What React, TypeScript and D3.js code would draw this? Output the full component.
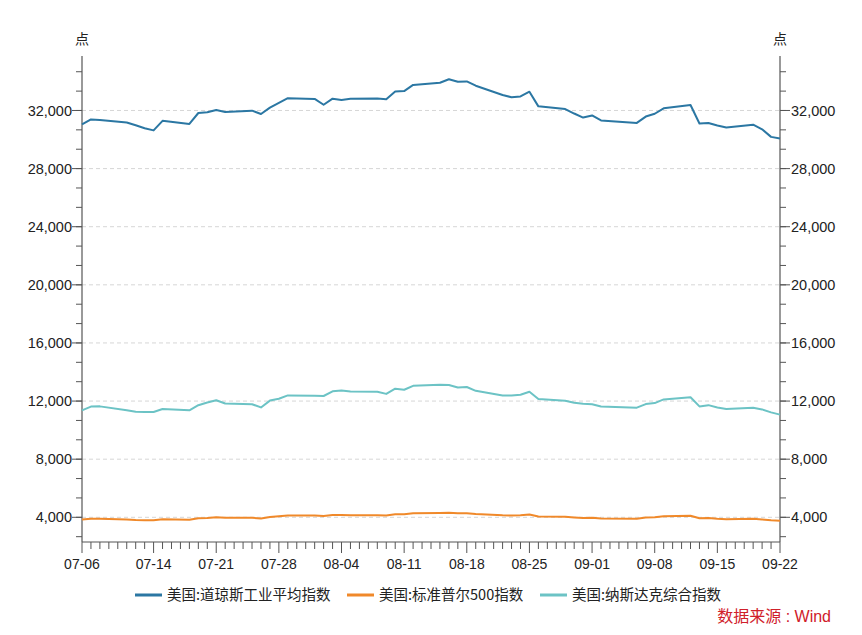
import React from "react";
import * as d3 from "d3";

const dates = [
  "2022-07-06","2022-07-07","2022-07-08","2022-07-11","2022-07-12","2022-07-13","2022-07-14","2022-07-15",
  "2022-07-18","2022-07-19","2022-07-20","2022-07-21","2022-07-22","2022-07-25","2022-07-26","2022-07-27",
  "2022-07-28","2022-07-29","2022-08-01","2022-08-02","2022-08-03","2022-08-04","2022-08-05","2022-08-08",
  "2022-08-09","2022-08-10","2022-08-11","2022-08-12","2022-08-15","2022-08-16","2022-08-17","2022-08-18",
  "2022-08-19","2022-08-22","2022-08-23","2022-08-24","2022-08-25","2022-08-26","2022-08-29","2022-08-30",
  "2022-08-31","2022-09-01","2022-09-02","2022-09-06","2022-09-07","2022-09-08","2022-09-09","2022-09-12",
  "2022-09-13","2022-09-14","2022-09-15","2022-09-16","2022-09-19","2022-09-20","2022-09-21","2022-09-22",
];

const dow = [
  31037.68,31384.55,31338.15,31173.84,30981.33,30772.79,30630.17,31288.26,
  31072.61,31827.05,31874.84,32036.90,31899.29,31990.04,31761.54,32197.59,
  32529.63,32845.13,32798.40,32396.17,32812.50,32726.82,32803.47,32832.54,
  32774.41,33309.51,33336.67,33761.05,33912.44,34152.01,33980.32,33999.04,
  33706.74,33063.61,32909.59,32969.23,33291.78,32283.40,32098.99,31790.87,
  31510.43,31656.42,31318.44,31145.30,31581.28,31774.52,32151.71,32381.34,
  31104.97,31135.09,30961.82,30822.42,31019.68,30706.23,30183.78,30076.68,
];

const sp500 = [
  3845.08,3902.62,3899.38,3854.43,3818.80,3801.78,3790.38,3863.16,
  3830.85,3936.69,3959.90,3998.95,3961.63,3966.84,3921.05,4023.61,
  4072.43,4130.29,4118.63,4091.19,4155.17,4151.94,4145.19,4140.06,
  4122.47,4210.24,4207.27,4280.15,4297.14,4305.20,4274.04,4283.74,
  4228.48,4137.99,4128.73,4140.77,4199.12,4057.66,4030.61,3986.16,
  3955.00,3966.85,3924.26,3908.19,3979.87,4006.18,4067.36,4110.41,
  3932.69,3946.01,3901.35,3873.33,3899.89,3855.93,3789.93,3757.99,
];

const nasdaq = [
  11361.85,11621.35,11635.31,11372.60,11264.73,11247.58,11251.19,11452.42,
  11360.05,11713.15,11897.65,12059.61,11834.11,11782.67,11562.58,12032.42,
  12162.59,12390.69,12368.98,12348.76,12668.16,12720.58,12657.55,12644.46,
  12493.93,12854.80,12779.91,13047.19,13128.05,13102.55,12938.12,12965.34,
  12705.22,12381.57,12381.30,12431.53,12639.27,12141.71,12017.67,11883.14,
  11816.20,11785.13,11630.86,11544.91,11791.90,11862.13,12112.31,12266.41,
  11633.57,11719.68,11552.36,11448.40,11535.02,11425.05,11220.19,11066.81,
];

const seriesNames = ["美国:道琼斯工业平均指数", "美国:标准普尔500指数", "美国:纳斯达克综合指数"];
const seriesColors = ["#2b77a3", "#f0892a", "#6cc3c5"];
const xTickDates = ["2022-07-06","2022-07-14","2022-07-21","2022-07-28","2022-08-04","2022-08-11","2022-08-18","2022-08-25","2022-09-01","2022-09-08","2022-09-15","2022-09-22"];
const yTicks = [4000, 8000, 12000, 16000, 20000, 24000, 28000, 32000];
const yUnit = "点";
const sourceLabel = "数据来源";
const sourceName = "Wind";

const W = 862, H = 635;
const left = 82, right = 780, top = 56, bottom = 542;
const FONT = "'Liberation Sans', Arial, sans-serif";
const CJK = "'Noto Sans CJK SC', sans-serif";

export default function App() {
  const parse = (s: string) => new Date(s + "T00:00:00Z");
  const x = d3.scaleUtc().domain([parse("2022-07-06"), parse("2022-09-22")]).range([left, right]);
  const y = d3.scaleLinear().domain([2300, 35750]).range([bottom, top]);
  const allSeries = [dow, sp500, nasdaq];
  const line = d3.line<number>().x((_, i) => x(parse(dates[i]))).y((v) => y(v));
  const days = d3.utcDay.range(parse("2022-07-06"), d3.utcDay.offset(parse("2022-09-22"), 1));
  const majorSet = new Set(xTickDates);
  const minorY: number[] = [];
  for (let v = 4000 - 4000 / 3; v <= 35750; v += 4000 / 3) minorY.push(v);
  const fmt = d3.format(",");
  const legendX = [135, 347, 540];

  return (
    <svg width={W} height={H} style={{ position: "absolute", left: 0, top: 0, background: "#fff" }}>
      <rect width={W} height={H} fill="#fff" />
      {yTicks.map((t) => (
        <line key={"g" + t} x1={left} x2={right} y1={y(t)} y2={y(t)} stroke="#d6d6d6" strokeDasharray="4,3" strokeWidth={1} />
      ))}
      <line x1={left} x2={left} y1={top} y2={bottom} stroke="#555" strokeWidth={1.2} />
      <line x1={right} x2={right} y1={top} y2={bottom} stroke="#555" strokeWidth={1.2} />
      {minorY.filter((v) => y(v) >= top && y(v) <= bottom).map((v, i) => (
        <g key={"m" + i}>
          <line x1={left - 6} x2={left} y1={y(v)} y2={y(v)} stroke="#555" />
          <line x1={right} x2={right + 6} y1={y(v)} y2={y(v)} stroke="#555" />
        </g>
      ))}
      {yTicks.map((t) => (
        <g key={"t" + t}>
          <line x1={left - 10} x2={left} y1={y(t)} y2={y(t)} stroke="#555" />
          <line x1={right} x2={right + 10} y1={y(t)} y2={y(t)} stroke="#555" />
          <text x={left - 10} y={y(t)} dy="0.35em" textAnchor="end" fontSize={14.5} fontFamily={FONT} fill="#222">{fmt(t)}</text>
          <text x={right + 11} y={y(t)} dy="0.35em" textAnchor="start" fontSize={14.5} fontFamily={FONT} fill="#222">{fmt(t)}</text>
        </g>
      ))}
      <text x={left} y={44} textAnchor="middle" fontSize={14} fontFamily={CJK} fill="#222">{yUnit}</text>
      <text x={right} y={44} textAnchor="middle" fontSize={14} fontFamily={CJK} fill="#222">{yUnit}</text>
      <line x1={left} x2={right} y1={bottom} y2={bottom} stroke="#555" strokeWidth={1.2} />
      {days.map((d) => {
        const key = d3.utcFormat("%Y-%m-%d")(d);
        const major = majorSet.has(key);
        return (
          <g key={"d" + key}>
            <line x1={x(d)} x2={x(d)} y1={bottom} y2={bottom + (major ? 11 : 7)} stroke="#555" />
            {major && (
              <text x={x(d)} y={bottom + 27} textAnchor="middle" fontSize={14} fontFamily={FONT} fill="#222">
                {d3.utcFormat("%m-%d")(d)}
              </text>
            )}
          </g>
        );
      })}
      {allSeries.map((s, i) => (
        <path key={"s" + i} d={line(s) || ""} fill="none" stroke={seriesColors[i]} strokeWidth={2} strokeLinejoin="round" />
      ))}
      {seriesNames.map((n, i) => (
        <g key={"l" + i}>
          <line x1={legendX[i]} x2={legendX[i] + 27} y1={595} y2={595} stroke={seriesColors[i]} strokeWidth={3} />
          <text x={legendX[i] + 32} y={595} dy="0.35em" fontSize={14.5} fontFamily={CJK} fill="#222">{n}</text>
        </g>
      ))}
      <text x={831} y={616} dy="0.35em" textAnchor="end" fontSize={16} fontFamily={CJK} fill="#d0202a">
        <tspan>{sourceLabel}</tspan>
        <tspan fontFamily={FONT}>{" : "}</tspan>
        <tspan fontFamily={FONT}>{sourceName}</tspan>
      </text>
    </svg>
  );
}
